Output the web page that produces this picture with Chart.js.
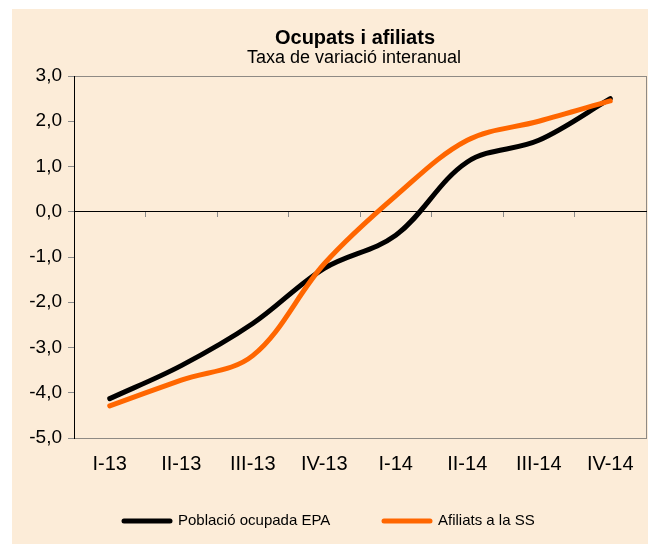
<!DOCTYPE html>
<html>
<head>
<meta charset="utf-8">
<script src="https://cdn.jsdelivr.net/npm/chart.js@4.4.1/dist/chart.umd.min.js"></script>
<style>
  html, body { margin: 0; padding: 0; background: #fff; }
  canvas { display: block; }
</style>
</head>
<body>
<canvas id="chart" width="648" height="544"></canvas>
<script>
const quarters = ["I-13", "II-13", "III-13", "IV-13", "I-14", "II-14", "III-14", "IV-14"];
const ocupadaEPA = [-4.13, -3.40, -2.47, -1.25, -0.52, 1.10, 1.58, 2.50];
const afiliatsSS = [-4.29, -3.72, -3.18, -1.15, 0.35, 1.58, 2.00, 2.45];
const yMin = -5, yMax = 3, yStep = 1;

const TITLE = "Ocupats i afiliats";
const SUBTITLE = "Taxa de variació interanual";
const FONT = "'Liberation Sans', Arial, sans-serif";
const BG = "#fcecd8";
const FRAME = "#8f8a84";

const fmt = v => v.toFixed(1).replace(".", ",");

// beige panel + grey plot frame, drawn under the scales
const backdrop = {
  id: "backdrop",
  beforeDraw(chart) {
    const { ctx, chartArea: a } = chart;
    ctx.save();
    ctx.fillStyle = BG;
    ctx.fillRect(12, 9, chart.width - 12, chart.height - 9);
    ctx.strokeStyle = FRAME;
    ctx.lineWidth = 1;
    ctx.strokeRect(Math.round(a.left) + 0.5, Math.round(a.top) + 0.5,
      Math.round(a.right - a.left), Math.round(a.bottom - a.top));
    ctx.restore();
  }
};

// titles and legend at the spots Excel put them
const texts = {
  id: "texts",
  afterDraw(chart) {
    const { ctx } = chart;
    ctx.save();
    ctx.fillStyle = "#000";
    ctx.textAlign = "center";
    ctx.textBaseline = "middle";
    ctx.font = `bold 20px ${FONT}`;
    ctx.fillText(TITLE, 355, 38);
    ctx.font = `18px ${FONT}`;
    ctx.fillText(SUBTITLE, 354, 58);

    const startX = [122, 382];
    const y = 521;
    ctx.font = `15px ${FONT}`;
    ctx.textAlign = "left";
    chart.data.datasets.forEach((ds, i) => {
      const x = startX[i];
      ctx.strokeStyle = ds.borderColor;
      ctx.lineWidth = 5;
      ctx.lineCap = "round";
      ctx.beginPath();
      ctx.moveTo(x + 2, y);
      ctx.lineTo(x + 48, y);
      ctx.stroke();
      ctx.fillText(ds.label, x + 56, y);
    });
    ctx.restore();
  }
};

new Chart(document.getElementById("chart"), {
  type: "line",
  data: {
    labels: quarters,
    datasets: [
      { label: "Població ocupada EPA", data: ocupadaEPA, borderColor: "#000000", order: 1 },
      { label: "Afiliats a la SS", data: afiliatsSS, borderColor: "#ff6600", order: 0 }
    ]
  },
  options: {
    responsive: false,
    animation: false,
    layout: { padding: { top: 76, right: 2, left: 0, bottom: 0 } },
    elements: {
      line: { borderWidth: 5, tension: 0.35, borderCapStyle: "round", borderJoinStyle: "round", fill: false },
      point: { radius: 0, hoverRadius: 0 }
    },
    plugins: {
      legend: { display: false },
      title: { display: false },
      tooltip: { enabled: false }
    },
    scales: {
      x: {
        type: "category",
        position: { y: 0 },
        offset: true,
        grid: { offset: true, drawOnChartArea: false, drawTicks: true, tickLength: 5, color: "#8a8a8a" },
        border: { display: true, color: "#000", width: 1 },
        ticks: { display: false }
      },
      xLabels: {
        type: "category",
        labels: quarters,
        position: "bottom",
        offset: true,
        grid: { display: false, drawTicks: false },
        border: { display: true, color: FRAME },
        ticks: { color: "#000", font: { family: FONT, size: 20 }, padding: 14, maxRotation: 0, autoSkip: false },
        afterFit(scale) { scale.height = 544 - 438; }
      },
      y: {
        min: yMin,
        max: yMax,
        position: "left",
        grid: { drawOnChartArea: false, drawTicks: true, tickLength: 6, color: "#8a8a8a" },
        border: { display: true, color: "#000", width: 1 },
        ticks: { stepSize: yStep, color: "#000", font: { family: FONT, size: 19 }, padding: 6, callback: v => fmt(v) },
        afterFit(scale) { scale.width = 74; }
      }
    }
  },
  plugins: [backdrop, texts]
});
</script>
</body>
</html>
